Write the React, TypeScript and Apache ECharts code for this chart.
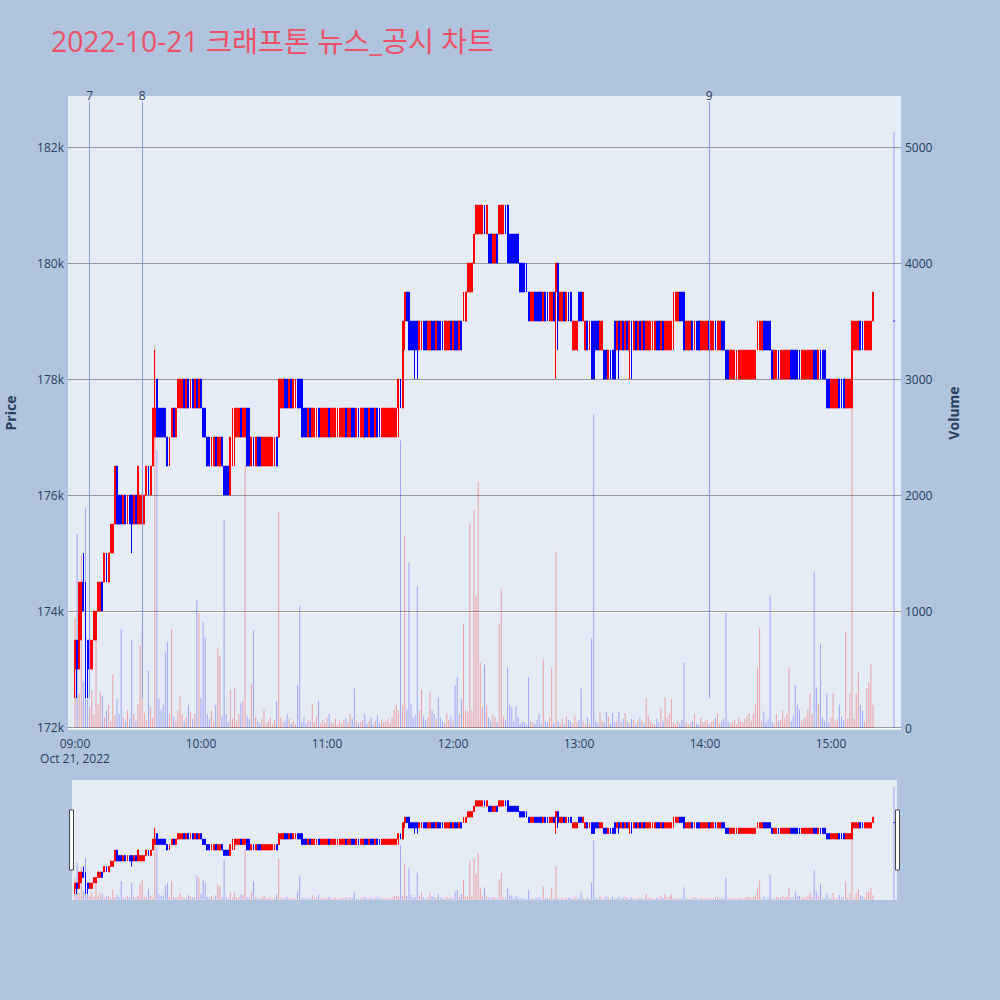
import React, { useEffect, useRef } from "react";
import * as echarts from "echarts";

const TITLE = "2022-10-21 크래프톤 뉴스_공시 차트";
const FIRST_TIME = "09:00";
const X_RANGE = ["08:56:40", "15:33:20"];
const PRICE_RANGE = [171950, 182880];
const VOLUME_RANGE = [-17, 5440];
const hourTicks = ["09:00", "10:00", "11:00", "12:00", "13:00", "14:00", "15:00"];
const priceTicks = [172000, 174000, 176000, 178000, 180000, 182000];
const volumeTicks = [0, 1000, 2000, 3000, 4000, 5000];

// [open, close] per minute from 09:00, in thousand won
const candleOC: [number, number][] = [
  [173,173.5],[173.5,173],[173,174.5],[173.5,174.5],[174.5,174],[174.5,172.5],[173.5,173],[173,173.5],[173,173.5],[173.5,174],
  [173.5,174],[174,174.5],[174,174.5],[174.5,174],[174.5,175],[175,174.5],[174.5,175],[175,175.5],[175,175.5],[175.5,176.5],
  [176.5,175.5],[176,175.5],[176,175.5],[175.5,176],[176,175.5],[175.5,176],[176,175.5],[176,175.5],[175.5,176],[176,175.5],
  [175.5,176.5],[175.5,176],[175.5,176],[175.5,176],[176,176.5],[176.5,176],[176,176.5],[176.5,177.5],[177,177.5],[178,177],
  [177.5,177],[177.5,177],[177.5,177],[177.5,177],[177,176.5],[176.5,177],[177,177.5],[177.5,177],[177,177.5],[177.5,178],
  [177.5,178],[177.5,178],[178,177.5],[177.5,178],[178,177.5],[177.5,178],[178,177.5],[177.5,178],[178,177.5],[177.5,178],
  [178,177.5],[177.5,177],[177.5,177],[177,176.5],[177,176.5],[176.5,177],[176.5,177],[177,176.5],[176.5,177],[176.5,177],
  [177,176.5],[176.5,176],[176.5,176],[176.5,176],[176,177],[177,177.5],[177,177.5],[177,177.5],[177,177.5],[177.5,177],
  [177,177.5],[177,177.5],[177.5,176.5],[177.5,176.5],[176.5,177],[177,176.5],[176.5,177],[177,176.5],[177,176.5],[176.5,177],
  [176.5,177],[176.5,177],[176.5,177],[176.5,177],[176.5,177],[176.5,177],[177,176.5],[177,178],[177.5,178],[177.5,178],
  [178,177.5],[178,177.5],[177.5,178],[178,177.5],[177.5,178],[177.5,178],[178,177.5],[178,177.5],[178,177],[177.5,177],
  [177.5,177],[177,177.5],[177.5,177],[177,177.5],[177,177.5],[177,177.5],[177.5,177],[177,177.5],[177,177.5],[177,177.5],
  [177,177.5],[177.5,177],[177,177.5],[177,177.5],[177,177.5],[177,177.5],[177,177.5],[177,177.5],[177,177.5],[177.5,177],
  [177,177.5],[177,177.5],[177.5,177],[177.5,177],[177,177.5],[177.5,177],[177,177.5],[177,177.5],[177.5,177],[177.5,177],
  [177,177.5],[177.5,177],[177.5,177],[177,177.5],[177.5,177],[177.5,177],[177,177.5],[177,177.5],[177,177.5],[177,177.5],
  [177,177.5],[177,177.5],[177,177.5],[177,177.5],[177.5,178],[178,177.5],[177.5,179],[179,179.5],[179.5,179],[179.5,178.5],
  [179,178.5],[179,178.5],[179,178.5],[179,178.5],[178.5,179],[178.5,179],[179,178.5],[179,178.5],[178.5,179],[178.5,179],
  [179,178.5],[179,178.5],[178.5,179],[179,178.5],[179,178.5],[179,178.5],[178.5,179],[178.5,179],[178.5,179],[179,178.5],
  [178.5,179],[179,178.5],[179,178.5],[178.5,179],[179,178.5],[179,179.5],[179,179.5],[179.5,180],[179.5,180],[179.5,180],
  [180,180.5],[180.5,181],[180.5,181],[180.5,181],[180.5,181],[181,180.5],[180.5,181],[180.5,180],[180.5,180],[180,180.5],
  [180,180.5],[180.5,180],[180.5,181],[180.5,181],[180.5,181],[181,180.5],[181,180],[180.5,180],[180.5,180],[180.5,180],
  [180.5,180],[180.5,180],[180,179.5],[180,179.5],[180,179.5],[180,179.5],[179.5,179],[179,179.5],[179,179.5],[179.5,179],
  [179.5,179],[179.5,179],[179.5,179],[179,179.5],[179.5,179],[179.5,179],[179,179.5],[179,179.5],[179.5,179],[179.5,180],
  [180,179],[179,179.5],[179,179.5],[179.5,179],[179,179.5],[179.5,179],[179.5,179],[178.5,179],[178.5,179],[178.5,179],
  [179.5,179],[179.5,179],[179,179.5],[178.5,179],[179,178.5],[178.5,179],[179,178],[179,178],[179,178.5],[179,178.5],
  [178.5,179],[178.5,179],[178.5,178],[178.5,178],[178,178.5],[178.5,178],[178.5,178],[179,178],[178.5,179],[179,178.5],
  [178.5,179],[179,178.5],[178.5,179],[179,178.5],[178.5,179],[179,178.5],[178.5,179],[179,178.5],[178.5,179],[179,178.5],
  [178.5,179],[179,178.5],[178.5,179],[178.5,179],[178.5,179],[178.5,179],[178.5,179],[179,178.5],[179,178.5],[178.5,179],
  [179,178.5],[178.5,179],[178.5,179],[178.5,179],[178.5,179],[178.5,179.5],[179,179.5],[179,179.5],[179.5,179],[179.5,179],
  [179.5,178.5],[178.5,179],[178.5,179],[178.5,179],[179,178.5],[178.5,179],[179,178.5],[179,178.5],[178.5,179],[178.5,179],
  [178.5,179],[178.5,179],[179,178.5],[178.5,179],[178.5,179],[179,178.5],[178.5,179],[178.5,179],[179,178.5],[179,178.5],
  [178.5,178],[178.5,178],[178,178.5],[178,178.5],[178,178.5],[178,178.5],[178,178.5],[178,178.5],[178,178.5],[178,178.5],
  [178,178.5],[178,178.5],[178,178.5],[178,178.5],[178,178.5],[178.5,179],[178.5,179],[178.5,179],[179,178.5],[179,178.5],
  [179,178.5],[179,178.5],[178.5,178],[178,178.5],[178,178.5],[178.5,178],[178,178.5],[178,178.5],[178,178.5],[178,178.5],
  [178,178.5],[178.5,178],[178.5,178],[178.5,178],[178.5,178],[178.5,178],[178,178.5],[178,178.5],[178,178.5],[178,178.5],
  [178,178.5],[178,178.5],[178.5,178],[178.5,178],[178,178.5],[178.5,178],[178.5,178],[178.5,178],[178,177.5],[178,177.5],
  [177.5,178],[177.5,178],[177.5,178],[177.5,178],[178,177.5],[178,177.5],[178,177.5],[177.5,178],[177.5,178],[177.5,178],
  [177.5,179],[178.5,179],[178.5,179],[178.5,179],[179,178.5],[179,178.5],[178.5,179],[178.5,179],[178.5,179],[178.5,179],[179,179.5],
];

// [minute index, low] and [minute index, high] where the wick goes past the body
const wickLows: [number, number][] = [
  [0,172.5],[1,172.5],[6,172.5],[27,175],[75,176.5],[76,176.5],[154,177],[157,178.5],
  [162,178],[163,178],[229,178],[230,178.5],[259,178],[264,178],[265,178],
];
const wickHighs: [number, number][] = [[4,175],[38,178.5]];

const volumes: number[] = [
  950,1670,300,1490,400,1890,250,180,320,120,
  850,200,310,280,90,150,200,60,460,110,
  250,120,850,90,60,150,80,760,120,60,
  200,710,870,130,70,490,180,90,3300,2390,
  250,160,200,650,740,120,850,100,60,150,
  280,120,60,90,200,140,80,120,1100,990,
  260,910,780,120,80,150,60,200,690,620,
  100,1790,120,50,330,80,350,60,120,220,
  230,2260,100,80,380,840,90,60,40,80,
  160,40,60,90,30,70,230,1860,90,50,
  60,120,80,40,60,30,370,1050,50,90,
  40,70,60,210,50,100,230,40,70,50,
  90,120,50,40,80,30,60,40,70,90,
  50,120,80,340,60,40,50,70,120,40,
  60,90,30,60,110,40,70,50,60,80,
  40,90,160,200,150,2475,200,1650,160,1420,
  210,90,110,1220,150,330,100,70,90,310,
  150,120,80,260,90,60,40,120,70,100,
  60,370,440,120,250,890,150,140,1760,150,
  1875,1135,2125,565,180,545,200,90,60,120,
  90,50,900,1200,100,70,520,200,180,60,
  190,90,40,60,50,30,435,60,50,40,
  70,120,40,590,60,50,90,520,40,1520,
  60,40,80,30,100,70,60,40,110,50,
  70,340,60,40,90,30,770,2700,60,40,
  130,60,50,140,100,40,130,50,60,140,
  50,80,130,60,40,80,70,30,60,90,
  60,40,260,100,60,40,30,80,50,170,
  60,260,90,130,250,50,30,60,40,70,
  560,50,30,40,60,120,40,30,90,50,
  60,70,30,50,60,90,130,40,60,80,
  990,60,40,50,70,30,90,60,50,80,
  100,130,60,120,200,520,860,60,140,50,
  80,1140,50,40,120,60,70,150,90,120,
  520,60,100,370,200,160,60,80,100,160,
  300,120,1340,350,200,720,90,60,300,50,
  90,300,60,80,200,100,70,830,80,300,
  2830,80,300,475,200,150,60,340,390,550,200,
];

const closingAuction = { time: "15:30", open: 179, close: 179, volume: 5130 };

const eventTimes = ["09:07", "09:32", "14:02"];
const eventLabels = ["7", "8", "9"];

const ts = (hhmm: string) => {
  const [h, m, s] = hhmm.split(":").map(Number);
  return new Date(2022, 9, 21, h, m, s || 0).getTime();
};
const pad = (n: number) => String(n).padStart(2, "0");

export default function App() {
  const ref = useRef<HTMLDivElement>(null);
  useEffect(() => {
    const chart = echarts.init(ref.current!, null, { renderer: "svg" });
    const t0 = ts(FIRST_TIME);
    const lowMap = new Map(wickLows);
    const highMap = new Map(wickHighs);

    const candles: any[] = candleOC.map(([o, c], i) => {
      const lo = lowMap.has(i) ? lowMap.get(i)! : Math.min(o, c);
      const hi = highMap.has(i) ? highMap.get(i)! : Math.max(o, c);
      return [t0 + i * 60000, o * 1000, c * 1000, lo * 1000, hi * 1000];
    });
    const ct = ts(closingAuction.time);
    candles.push([ct, closingAuction.open * 1000, closingAuction.close * 1000,
      Math.min(closingAuction.open, closingAuction.close) * 1000,
      Math.max(closingAuction.open, closingAuction.close) * 1000]);

    const upVol = "rgba(255,0,0,0.32)";
    const downVol = "rgba(0,0,255,0.3)";
    // [time, volume, direction(1 up / 0 down)]
    const vols: number[][] = candleOC.map(([o, c], i) => [t0 + i * 60000, volumes[i], c >= o ? 1 : 0]);
    vols.push([ct, closingAuction.volume, 0]);

    const renderVol = (params: any, api: any) => {
      const top = api.coord([api.value(0), api.value(1)]);
      const base = api.coord([api.value(0), 0]);
      return {
        type: "rect",
        shape: { x: top[0] - 0.5, y: top[1], width: 1, height: base[1] - top[1] },
        style: { fill: api.value(2) === 1 ? upVol : downVol },
      };
    };

    const font = "'Open Sans', 'Noto Sans CJK KR', sans-serif";
    const txt = "#2a3f5f";
    const firstHour = ts(hourTicks[0]);

    const candleStyle = {
      color: "#FF0000",
      color0: "#0000FF",
      borderColor: "#FF0000",
      borderColor0: "#0000FF",
      borderWidth: 1,
    };

    const option: any = {
      animation: false,
      backgroundColor: "#B0C4DE",
      title: {
        text: TITLE,
        left: 46,
        top: 22,
        textStyle: { color: "#EC5168", fontSize: 28.3, fontWeight: "normal", fontFamily: font },
      },
      grid: [
        { left: 68, top: 96, width: 833, height: 634, show: true, backgroundColor: "#E5ECF6", borderWidth: 0, containLabel: false, outerBoundsMode: "none" },
        { left: 68, top: 780, width: 833, height: 120, show: false, borderWidth: 0, containLabel: false, outerBoundsMode: "none" },
      ],
      xAxis: [
        {
          type: "time",
          gridIndex: 0,
          min: ts(X_RANGE[0]),
          max: ts(X_RANGE[1]),
          minInterval: 3600000,
          maxInterval: 3600000,
          axisLine: { show: false },
          axisTick: { show: false },
          splitLine: { show: false },
          axisLabel: {
            color: txt,
            fontSize: 12,
            fontFamily: font,
            margin: 6,
            lineHeight: 15,
            formatter: (v: number) => {
              const d = new Date(v);
              const s = pad(d.getHours()) + ":" + pad(d.getMinutes());
              return v === firstHour ? s + "\nOct 21, 2022" : s;
            },
          },
        },
        {
          type: "time",
          gridIndex: 1,
          min: ts(X_RANGE[0]),
          max: ts(X_RANGE[1]),
          show: false,
          splitLine: { show: false },
        },
      ],
      yAxis: [
        {
          type: "value",
          gridIndex: 0,
          z: 1,
          min: PRICE_RANGE[0],
          max: PRICE_RANGE[1],
          splitNumber: 5,
          name: "Price",
          nameLocation: "middle",
          nameGap: 51,
          nameRotate: 90,
          nameTextStyle: { color: txt, fontSize: 14, fontWeight: "bold", fontFamily: font },
          axisLine: { show: false },
          axisTick: { show: false },
          splitLine: { show: true, showMinLine: false, showMaxLine: false, lineStyle: { color: "#999999", width: 1 } },
          axisLabel: {
            color: txt,
            fontSize: 12,
            fontFamily: font,
            margin: 4,
            formatter: (v: number) => (priceTicks.includes(v) ? v / 1000 + "k" : ""),
          },
        },
        {
          type: "value",
          gridIndex: 0,
          z: 0,
          position: "right",
          min: VOLUME_RANGE[0],
          max: VOLUME_RANGE[1],
          splitNumber: 5,
          name: "Volume",
          nameLocation: "middle",
          nameGap: 45,
          nameRotate: 90,
          nameTextStyle: { color: txt, fontSize: 14, fontWeight: "bold", fontFamily: font },
          axisLine: { show: false },
          axisTick: { show: false },
          splitLine: { show: true, showMinLine: false, showMaxLine: false, lineStyle: { color: "#ffffff", width: 1 } },
          axisLabel: {
            color: txt,
            fontSize: 12,
            fontFamily: font,
            margin: 4,
            formatter: (v: number) => (volumeTicks.includes(v) ? String(v) : ""),
          },
        },
        { type: "value", gridIndex: 1, min: PRICE_RANGE[0], max: PRICE_RANGE[1], show: false, splitLine: { show: false } },
        { type: "value", gridIndex: 1, min: VOLUME_RANGE[0], max: VOLUME_RANGE[1], show: false, splitLine: { show: false } },
      ],
      series: [
        {
          type: "custom",
          xAxisIndex: 0,
          yAxisIndex: 1,
          data: vols,
          encode: { x: 0, y: 1 },
          renderItem: renderVol,
          z: 2,
        },
        {
          type: "candlestick",
          xAxisIndex: 0,
          yAxisIndex: 0,
          data: candles,
          encode: { x: 0, y: [1, 2, 3, 4] },
          barWidth: 1.4,
          itemStyle: candleStyle,
          z: 3,
          markLine: {
            silent: true,
            symbol: ["none", "none"],
            lineStyle: { color: "#8a9cf0", width: 1, type: "solid" },
            label: { show: true, position: "end", distance: 0, color: txt, fontSize: 12, fontFamily: font, formatter: "{b}" },
            data: eventTimes.map((t, i) => [
              { coord: [ts(t), 172500], name: eventLabels[i] },
              { coord: [ts(t), 182780] },
            ]),
          },
        },
        {
          type: "custom",
          xAxisIndex: 1,
          yAxisIndex: 3,
          data: vols,
          encode: { x: 0, y: 1 },
          renderItem: renderVol,
          z: 2,
        },
        {
          type: "candlestick",
          xAxisIndex: 1,
          yAxisIndex: 2,
          data: candles,
          encode: { x: 0, y: [1, 2, 3, 4] },
          barWidth: 1.4,
          itemStyle: candleStyle,
          z: 3,
        },
      ],
      graphic: [
        { type: "rect", z: -1, shape: { x: 72, y: 780, width: 825, height: 120 }, style: { fill: "#E5ECF6" }, silent: true },
        { type: "rect", z: 10, shape: { x: 69.5, y: 810, width: 4, height: 60 }, style: { fill: "#fff", stroke: "#444", lineWidth: 1 }, silent: true },
        { type: "rect", z: 10, shape: { x: 895.5, y: 810, width: 4, height: 60 }, style: { fill: "#fff", stroke: "#444", lineWidth: 1 }, silent: true },
      ],
    };
    chart.setOption(option);
    return () => chart.dispose();
  }, []);
  return <div ref={ref} style={{ position: "fixed", left: 0, top: 0, width: 1000, height: 1000 }} />;
}
